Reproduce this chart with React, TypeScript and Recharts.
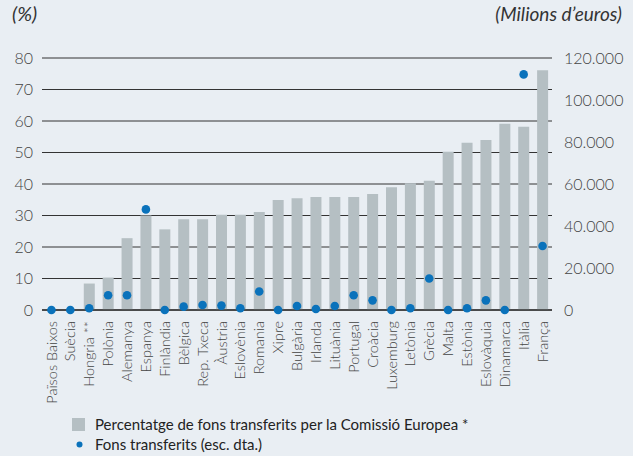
import React from 'react';
import { ComposedChart, Bar, Scatter, XAxis, YAxis, CartesianGrid } from 'recharts';

const countries = [
  'Països Baixos', 'Suècia', 'Hongria **', 'Polònia', 'Alemanya', 'Espanya', 'Finlàndia',
  'Bèlgica', 'Rep. Txeca', 'Àustria', 'Eslovènia', 'Romania', 'Xipre', 'Bulgària', 'Irlanda',
  'Lituània', 'Portugal', 'Croàcia', 'Luxemburg', 'Letònia', 'Grècia', 'Malta', 'Estònia',
  'Eslovàquia', 'Dinamarca', 'Itàlia', 'França',
];

// Percentatge de fons transferits per la Comissió Europea (%)
const pctTransferred = [
  0, 0, 8.4, 10.3, 22.8, 30.0, 25.6,
  28.8, 28.8, 30.2, 30.2, 31.1, 34.9, 35.5, 35.9,
  35.9, 35.9, 36.8, 39.0, 40.2, 41.0, 50.2, 53.1,
  54.0, 59.1, 58.2, 76.1,
];

// Fons transferits (milions d'euros, escala dreta)
const fundsTransferred = [
  0, 0, 800, 7000, 7000, 47900, 0,
  1600, 2400, 2100, 800, 8800, 0, 1900, 500,
  1900, 7000, 4600, 0, 800, 15000, 0, 800,
  4600, 0, 112200, 30500,
];

const leftTicks = [0, 10, 20, 30, 40, 50, 60, 70, 80];
const rightTicks = [0, 20000, 40000, 60000, 80000, 100000, 120000];

const leftTitle = '(%)';
const rightTitle = '(Milions d\u2019euros)';
const legendBar = 'Percentatge de fons transferits per la Comissió Europea *';
const legendDot = 'Fons transferits (esc. dta.)';

const data = countries.map((country, i) => ({
  country,
  pct: pctTransferred[i],
  funds: fundsTransferred[i],
}));

const FONT = 'Lato, "Open Sans", "Noto Sans", sans-serif';
const BG = '#e9eef3';
const BAR = '#b5bfc3';
const DOT = '#0a72bb';
const TEXT = '#444';

const fmtThousands = (v: number) =>
  String(v).replace(/\B(?=(\d{3})+(?!\d))/g, '.');

const XTick = (props: any) => {
  const { x, y, payload } = props;
  return (
    <text
      x={x}
      y={y}
      transform={`rotate(-90 ${x} ${y})`}
      textAnchor="end"
      dy="0.35em"
      fontSize={14.5}
      fontWeight={300}
      fill={TEXT}
      fontFamily={FONT}
    >
      {payload.value}
    </text>
  );
};

const Dot = (props: any) => {
  const { cx, cy } = props;
  if (cx == null || cy == null) return null;
  return <circle cx={cx} cy={cy} r={4.3} fill={DOT} />;
};

export default function App() {
  return (
    <div
      style={{
        position: 'absolute',
        left: 0,
        top: 0,
        width: 633,
        height: 456,
        background: BG,
        fontFamily: FONT,
      }}
    >
      <ComposedChart
        width={633}
        height={456}
        data={data}
        margin={{ top: 58, right: 0, bottom: 0, left: 0 }}
      >
        <CartesianGrid yAxisId="left" vertical={false} stroke="#333" strokeWidth={1} />
        <XAxis
          dataKey="country"
          interval={0}
          tickLine={false}
          axisLine={{ stroke: '#333', strokeWidth: 1.5 }}
          tickSize={0}
          tickMargin={11}
          height={146}
          tick={<XTick />}
        />
        <YAxis
          yAxisId="left"
          orientation="left"
          width={42}
          domain={[0, 80]}
          ticks={leftTicks}
          axisLine={false}
          tickLine={false}
          tickSize={0}
          tickMargin={9}
          tick={{ fontSize: 16, fontWeight: 300, fill: TEXT, fontFamily: FONT }}
        />
        <YAxis
          yAxisId="right"
          orientation="right"
          width={81}
          domain={[0, 120000]}
          ticks={rightTicks}
          axisLine={false}
          tickLine={false}
          tickSize={0}
          tickMargin={12}
          tickFormatter={fmtThousands}
          tick={{ fontSize: 16, fontWeight: 300, fill: TEXT, fontFamily: FONT }}
        />
        <Bar yAxisId="left" dataKey="pct" fill={BAR} barSize={11} isAnimationActive={false} />
        <Scatter yAxisId="right" dataKey="funds" fill={DOT} shape={<Dot />} isAnimationActive={false} />
      </ComposedChart>
      <svg
        width={633}
        height={456}
        style={{ position: 'absolute', left: 0, top: 0, pointerEvents: 'none' }}
      >
        <text x={12} y={21} fontSize={20} fontStyle="italic" fill="#333" fontFamily={FONT}>
          {leftTitle}
        </text>
        <text x={622} y={21} fontSize={19} fontStyle="italic" fill="#333" fontFamily={FONT} textAnchor="end">
          {rightTitle}
        </text>
        <rect x={72} y={418} width={13} height={13} fill={BAR} />
        <text x={95} y={430} fontSize={15} fill="#222" fontFamily={FONT}>
          {legendBar}
        </text>
        <circle cx={79.5} cy={444.5} r={3} fill={DOT} />
        <text x={95} y={450} fontSize={15} fill="#222" fontFamily={FONT}>
          {legendDot}
        </text>
      </svg>
    </div>
  );
}
